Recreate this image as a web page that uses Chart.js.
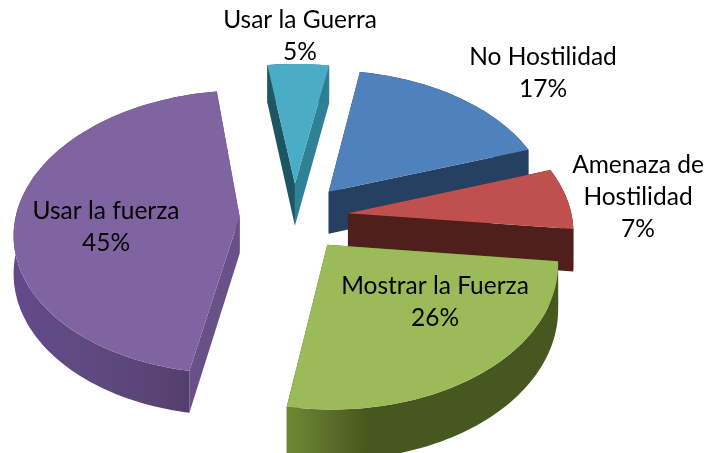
<!DOCTYPE html>
<html><head><meta charset="utf-8">
<style>html,body{margin:0;padding:0;background:#fff}canvas{display:block}</style>
<script src="https://cdn.jsdelivr.net/npm/chart.js@4"></script>
</head><body>
<div style="width:710px;height:453px"><canvas id="c" width="710" height="453"></canvas></div>
<script>
const categories = ["No Hostilidad","Amenaza de Hostilidad","Mostrar la Fuerza","Usar la fuerza","Usar la Guerra"];
const values = [17,7,26,45,5];
const labelLines = [["No Hostilidad"],["Amenaza de","Hostilidad"],["Mostrar la Fuerza"],["Usar la fuerza"],["Usar la Guerra"]];

const topColors = ["#4F81BD","#C0504D","#9BBB59","#8064A2","#4BACC6"];
const startFace = ["#254061","#4F1F1C","#46571F","#6A5088","#1D5663"];
const endFace   = ["#254061","#4F1F1C","#46571F","#6A5088","#2F8196"];
const rimStops = [
  [[0,"#254061"],[1,"#254061"]],
  [[0,"#4F1F1C"],[1,"#4F1F1C"]],
  [[0,"#6E8A32"],[0.12,"#5E752B"],[0.3,"#46571F"],[1,"#46571F"]],
  [[0,"#64498A"],[0.3,"#5F4A82"],[0.65,"#5B4577"],[0.95,"#4F3C68"],[1,"#4F3C68"]],
  [[0,"#1D5663"],[1,"#2F8196"]]
];
const depthScale = [1,0.98,1.02,0.87,1];
// one text anchor per line, last one is the percentage
const labelAnchors = [
  [[543,57],[543,89]],
  [[638,165],[638,197],[638,229]],
  [[435,286],[435,318]],
  [[106,211],[106,243]],
  [[300,20],[300,52]]
];

const view = {cx:294, cy:217, A:224, B:140, k:0.11, offset:0.243, depth:43};
function project(u,v,s){
  const w = 1 - view.k*v;
  return {x:view.cx + view.A*u/w, y:view.cy + view.B*v/w, d:view.depth*s/w};
}

const solid3d = {
  id:'solid3d',
  beforeDatasetDraw(chart){
    const ctx = chart.ctx;
    const arcs = chart.getDatasetMeta(0).data;
    const order = arcs.map((a,i)=>i).sort((a,b)=>{
      const m = e => Math.sin((e.startAngle+e.endAngle)/2);
      return m(arcs[a])-m(arcs[b]);
    });
    for(const i of order){
      const a = arcs[i], mid=(a.startAngle+a.endAngle)/2, s0=depthScale[i];
      const ox = Math.cos(mid)*view.offset, oy = Math.sin(mid)*view.offset;
      const apex = project(ox,oy,s0);
      const rim=[]; const n=Math.max(8,Math.ceil((a.endAngle-a.startAngle)*40));
      for(let s=0;s<=n;s++){
        const t=a.startAngle+(a.endAngle-a.startAngle)*s/n;
        rim.push(project(ox+Math.cos(t),oy+Math.sin(t),s0));
      }
      const quad=(p,q,color)=>{
        ctx.beginPath();ctx.moveTo(p.x,p.y);ctx.lineTo(q.x,q.y);
        ctx.lineTo(q.x,q.y+q.d);ctx.lineTo(p.x,p.y+p.d);ctx.closePath();
        ctx.fillStyle=color;ctx.fill();
      };
      const first=rim[0], last=rim[rim.length-1];
      quad(apex,last,endFace[i]);
      quad(apex,first,startFace[i]);
      // outer wall
      const xs=rim.map(p=>p.x), x0=Math.min(...xs), x1=Math.max(...xs);
      const g=ctx.createLinearGradient(x0,0,x1,0);
      rimStops[i].forEach(s=>g.addColorStop(s[0],s[1]));
      ctx.beginPath();
      rim.forEach((p,j)=>j?ctx.lineTo(p.x,p.y):ctx.moveTo(p.x,p.y));
      for(let j=rim.length-1;j>=0;j--)ctx.lineTo(rim[j].x,rim[j].y+rim[j].d);
      ctx.closePath();ctx.fillStyle=g;ctx.fill();
      // top
      ctx.beginPath();ctx.moveTo(apex.x,apex.y);
      rim.forEach(p=>ctx.lineTo(p.x,p.y));ctx.closePath();
      ctx.fillStyle=topColors[i];ctx.fill();
    }
    return false;
  },
  afterDatasetsDraw(chart){
    const ctx=chart.ctx;
    ctx.save();
    ctx.font='24.5px Lato';ctx.fillStyle='#000';ctx.textAlign='center';ctx.textBaseline='middle';
    categories.forEach((c,i)=>{
      const lines=[...labelLines[i], values[i]+'%'];
      lines.forEach((t,j)=>ctx.fillText(t,labelAnchors[i][j][0],labelAnchors[i][j][1]));
    });
    ctx.restore();
  }
};

new Chart(document.getElementById('c'),{
  type:'pie',
  data:{labels:categories,datasets:[{data:values,backgroundColor:topColors,borderWidth:0}]},
  options:{responsive:false,animation:false,rotation:10,
    plugins:{legend:{display:false},tooltip:{enabled:false}}},
  plugins:[solid3d]
});
</script>
</body></html>
